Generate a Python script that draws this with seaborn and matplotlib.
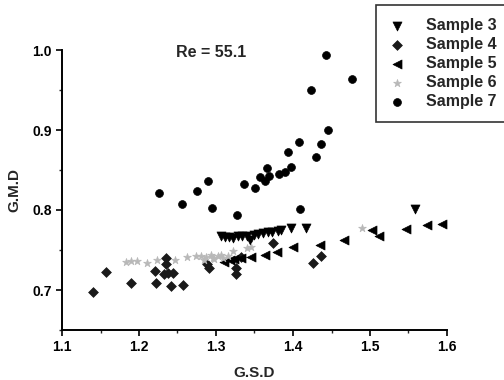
import numpy as np
import pandas as pd
import matplotlib
matplotlib.use("Agg")
import matplotlib.pyplot as plt
from matplotlib.ticker import MultipleLocator
import seaborn as sns

# ---- data ----
s3_x = [1.307, 1.312, 1.317, 1.322, 1.328, 1.334, 1.340, 1.344, 1.349, 1.355,
        1.361, 1.367, 1.373, 1.380, 1.385, 1.398, 1.417, 1.559]
s3_y = [0.767, 0.766, 0.766, 0.765, 0.767, 0.767, 0.768, 0.763, 0.769, 0.770,
        0.771, 0.772, 0.773, 0.774, 0.775, 0.778, 0.777, 0.801]

s4_x = [1.140, 1.157, 1.189, 1.221, 1.222, 1.232, 1.235, 1.235, 1.238, 1.244,
        1.241, 1.257, 1.288, 1.291, 1.326, 1.326, 1.333, 1.374, 1.426, 1.436]
s4_y = [0.697, 0.722, 0.709, 0.724, 0.709, 0.720, 0.740, 0.733, 0.721, 0.721,
        0.705, 0.706, 0.732, 0.727, 0.728, 0.720, 0.741, 0.759, 0.734, 0.742]

s5_x = [1.310, 1.318, 1.323, 1.332, 1.346, 1.364, 1.379, 1.400, 1.435, 1.466,
        1.503, 1.512, 1.547, 1.574, 1.593]
s5_y = [0.735, 0.737, 0.739, 0.740, 0.741, 0.744, 0.748, 0.754, 0.756, 0.762,
        0.775, 0.768, 0.776, 0.781, 0.783]

s6_x = [1.183, 1.190, 1.197, 1.211, 1.223, 1.247, 1.262, 1.274, 1.281, 1.287,
        1.293, 1.298, 1.303, 1.309, 1.316, 1.322, 1.340, 1.346, 1.489,
        1.284, 1.296, 1.306]
s6_y = [0.735, 0.736, 0.736, 0.734, 0.738, 0.737, 0.741, 0.742, 0.743, 0.741,
        0.744, 0.739, 0.742, 0.740, 0.743, 0.749, 0.752, 0.754, 0.778,
        0.738, 0.740, 0.744]

s7_x = [1.226, 1.256, 1.275, 1.290, 1.295, 1.327, 1.336, 1.351, 1.357, 1.364,
        1.366, 1.369, 1.382, 1.390, 1.393, 1.397, 1.409, 1.408, 1.430, 1.436,
        1.423, 1.445, 1.443, 1.477]
s7_y = [0.821, 0.808, 0.824, 0.836, 0.802, 0.794, 0.833, 0.828, 0.841, 0.836,
        0.853, 0.843, 0.845, 0.847, 0.872, 0.854, 0.801, 0.885, 0.866, 0.882,
        0.950, 0.900, 0.994, 0.964]

samples = ["Sample 3", "Sample 4", "Sample 5", "Sample 6", "Sample 7"]
xs = [s3_x, s4_x, s5_x, s6_x, s7_x]
ys = [s3_y, s4_y, s5_y, s6_y, s7_y]

annotation = "Re = 55.1"
x_label = "G.S.D"
y_label = "G.M.D"

df = pd.concat(
    [pd.DataFrame({"G.S.D": x, "G.M.D": y, "Sample": s}) for s, x, y in zip(samples, xs, ys)],
    ignore_index=True,
)

# ---- style ----
sns.set_style("ticks")
plt.rcParams["font.family"] = ["Liberation Sans", "DejaVu Sans"]

markers = {"Sample 3": "v", "Sample 4": "D", "Sample 5": "<", "Sample 6": "*", "Sample 7": "o"}
colors = {"Sample 3": "black", "Sample 4": "#1a1a1a", "Sample 5": "black",
          "Sample 6": "#b8b8b8", "Sample 7": "black"}
sizes = {"Sample 3": 42, "Sample 4": 25, "Sample 5": 42, "Sample 6": 34, "Sample 7": 32}

fig = plt.figure(figsize=(5.04, 3.80), dpi=100)
ax = fig.add_axes([62 / 504, 50 / 380, (447 - 62) / 504, (330 - 50) / 380])

for s in samples:
    sns.scatterplot(data=df[df["Sample"] == s], x="G.S.D", y="G.M.D", ax=ax,
                    marker=markers[s], color=colors[s], s=sizes[s],
                    edgecolor=colors[s], linewidth=0.5, label=s, legend=False)

ax.set_xlim(1.1, 1.6)
ax.set_ylim(0.65, 1.0)
ax.xaxis.set_major_locator(MultipleLocator(0.1))
ax.xaxis.set_minor_locator(MultipleLocator(0.05))
ax.yaxis.set_major_locator(MultipleLocator(0.1))
ax.yaxis.set_minor_locator(MultipleLocator(0.05))
ax.set_yticks([0.7, 0.8, 0.9, 1.0])
ax.set_yticklabels(["0.7", "0.8", "0.9", "1.0"])
ax.set_xticks([1.1, 1.2, 1.3, 1.4, 1.5, 1.6])
ax.set_xticklabels(["1.1", "1.2", "1.3", "1.4", "1.5", "1.6"])

for side in ["top", "right"]:
    ax.spines[side].set_visible(False)
for side in ["left", "bottom"]:
    ax.spines[side].set_linewidth(1.4)
    ax.spines[side].set_color("black")
ax.tick_params(which="major", direction="out", length=4, width=1.2, labelsize=10,
               colors="black")
ax.tick_params(which="minor", direction="out", length=2.5, width=1.0)
for lbl in ax.get_xticklabels() + ax.get_yticklabels():
    lbl.set_fontweight("bold")

ax.set_xlabel(x_label, fontsize=11, fontweight="bold", labelpad=8)
ax.set_ylabel(y_label, fontsize=11, fontweight="bold", labelpad=8)

ax.text(1.2935, 0.997, annotation, fontsize=11.5, fontweight="bold",
        ha="center", va="center")

handles, labels = ax.get_legend_handles_labels()
leg = fig.legend(handles, labels, loc="upper left",
                 bbox_to_anchor=(376 / 504, 1 - 5 / 380),
                 bbox_transform=fig.transFigure,
                 fontsize=11.5, frameon=True, fancybox=False, edgecolor="black",
                 borderpad=0.8, handlelength=1.0, handletextpad=1.3,
                 labelspacing=0.25, borderaxespad=0)
leg.get_frame().set_linewidth(1.2)
for t in leg.get_texts():
    t.set_fontweight("bold")

fig.savefig("out.png", dpi=100)
